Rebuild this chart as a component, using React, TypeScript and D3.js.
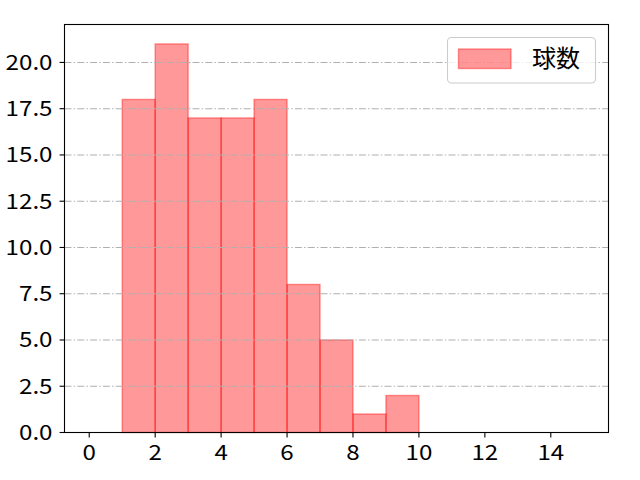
import * as d3 from 'd3';

// histogram bins (left edge) and counts
const binStarts = [1, 2, 3, 4, 5, 6, 7, 8, 9];
const counts = [18, 21, 17, 17, 18, 8, 5, 1, 2];
const xTicks = [0, 2, 4, 6, 8, 10, 12, 14];
const yTicks = [0, 2.5, 5, 7.5, 10, 12.5, 15, 17.5, 20];
const seriesName = '球数';

const W = 640;
const H = 480;
const margin = { left: 64.5, right: 31.5, top: 24.5, bottom: 47.5 };
const font = '"Noto Sans CJK JP", "Noto Sans", sans-serif';
const fs = 21;
// the reference font has wide, round digits: stretch a little
const stretch = 1.15;

export default function App() {
  const x = d3.scaleLinear().domain([-0.75, 15.75]).range([margin.left, W - margin.right]);
  const y = d3.scaleLinear().domain([0, 22.05]).range([H - margin.bottom, margin.top]);
  const [x0, x1] = x.range();
  const [y0, y1] = y.range();

  return (
    <svg width={W} height={H} style={{ position: 'absolute', left: 0, top: 0, background: '#fff' }}
      fontFamily={font}>
      {/* bars */}
      {binStarts.map((b, i) => (
        <rect key={b}
          x={x(b)} y={y(counts[i])}
          width={x(b + 1) - x(b)} height={y(0) - y(counts[i])}
          fill="#ff0000" fillOpacity={0.4}
          stroke="#ff0000" strokeOpacity={0.4} strokeWidth={1.4} />
      ))}

      {/* grid on top */}
      {yTicks.map(t => (
        <line key={'g' + t} x1={x0} x2={x1} y1={y(t)} y2={y(t)}
          stroke="#b0b0b0" strokeWidth={1.1} strokeDasharray="7,2.2,1.4,2.2" />
      ))}

      {/* axes frame */}
      <rect x={x0} y={y1} width={x1 - x0} height={y0 - y1} fill="none" stroke="#000" strokeWidth={1.1} />

      {/* x ticks */}
      {xTicks.map(t => (
        <g key={'x' + t}>
          <line x1={x(t)} x2={x(t)} y1={y0} y2={y0 + 4.9} stroke="#000" strokeWidth={1.1} />
          <text transform={`translate(${x(t)},${y0 + 27.5}) scale(${stretch},1)`}
            textAnchor="middle" fontSize={fs}>{t}</text>
        </g>
      ))}

      {/* y ticks */}
      {yTicks.map(t => (
        <g key={'y' + t}>
          <line x1={x0 - 4.9} x2={x0} y1={y(t)} y2={y(t)} stroke="#000" strokeWidth={1.1} />
          <text transform={`translate(${x0 - 12},${y(t) + 7.5}) scale(${stretch},1)`}
            textAnchor="end" fontSize={fs}>{t.toFixed(1)}</text>
        </g>
      ))}

      {/* legend */}
      <g>
        <rect x={447.5} y={37.5} width={148} height={45.5} rx={4} fill="#fff" fillOpacity={0.8}
          stroke="#cccccc" strokeWidth={1.1} />
        <rect x={458.5} y={49} width={52.5} height={19.5}
          fill="#ff0000" fillOpacity={0.4} stroke="#ff0000" strokeOpacity={0.4} strokeWidth={1.4} />
        <text x={532} y={58.5} dy="0.36em" fontSize={24}>{seriesName}</text>
      </g>
    </svg>
  );
}
